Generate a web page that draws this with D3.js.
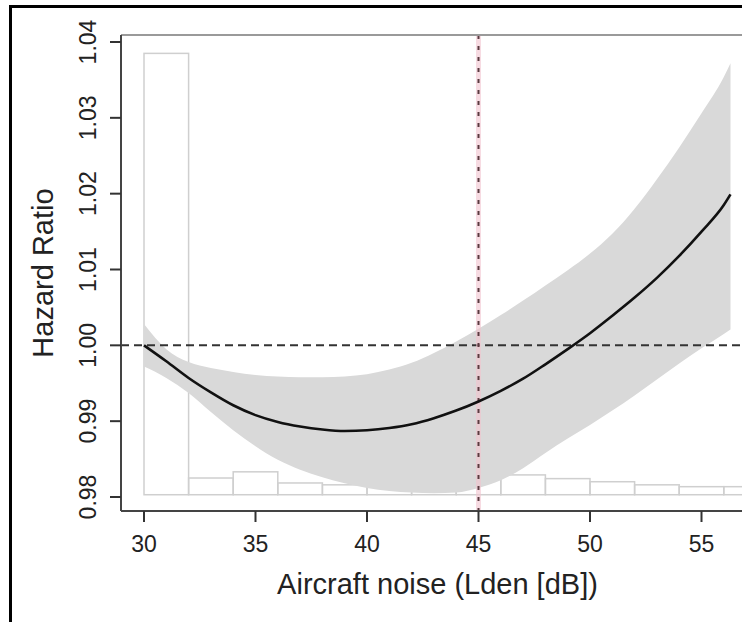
<!DOCTYPE html>
<html>
<head>
<meta charset="utf-8">
<script src="https://cdn.jsdelivr.net/npm/d3@7"></script>
<style>
  html, body { margin: 0; padding: 0; background: #fff; }
  svg { display: block; }
  text { font-family: "Liberation Sans", Arial, sans-serif; fill: #222; }
</style>
</head>
<body>
<svg id="chart" width="742" height="622"></svg>
<script>
// ---- data ----
const noise = [30, 31, 32, 33, 34, 35, 36, 37, 38, 39, 40, 41, 42, 43, 44, 45, 46, 47, 48, 49, 50, 51, 52, 53, 54, 55, 56, 56.3];
const hazard = [1.0000, 0.9979, 0.9957, 0.9938, 0.9921, 0.9908, 0.9899, 0.9893, 0.9889, 0.9887, 0.9888, 0.9891, 0.9896, 0.9904, 0.9914, 0.9926, 0.9940, 0.9956, 0.9975, 0.9995, 1.0016, 1.0039, 1.0063, 1.0089, 1.0118, 1.0150, 1.0185, 1.0199];
const lowerCI = [0.9972, 0.9957, 0.9937, 0.9912, 0.9888, 0.9867, 0.9849, 0.9836, 0.9826, 0.9818, 0.9812, 0.9808, 0.9806, 0.9805, 0.9806, 0.9812, 0.9822, 0.9838, 0.9858, 0.9877, 0.9895, 0.9914, 0.9934, 0.9955, 0.9976, 0.9996, 1.0015, 1.0021];
const upperCI = [1.0028, 0.9995, 0.9978, 0.9970, 0.9965, 0.9961, 0.9959, 0.9958, 0.9958, 0.9959, 0.9962, 0.9968, 0.9977, 0.9990, 1.0005, 1.0022, 1.0040, 1.0059, 1.0079, 1.0099, 1.0121, 1.0147, 1.0180, 1.0219, 1.0261, 1.0306, 1.0354, 1.0372];

const histBinStart = [30, 32, 34, 36, 38, 40, 42, 44, 46, 48, 50, 52, 54, 56];
const histShare = [71.3, 2.7, 3.7, 1.9, 1.6, 1.3, 1.9, 3.7, 3.2, 2.6, 2.1, 1.6, 1.3, 1.3];
const histBinWidth = 2;

const xTicks = [30, 35, 40, 45, 50, 55];
const yTicks = [0.98, 0.99, 1.00, 1.01, 1.02, 1.03, 1.04];
const refHazard = 1.00;
const refNoise = 45;

const xTitle = "Aircraft noise (Lden [dB])";
const yTitle = "Hazard Ratio";

// ---- layout ----
const svg = d3.select("#chart");
const x = d3.scaleLinear().domain([30, 55]).range([144, 701.5]);
const y = d3.scaleLinear().domain([0.98, 1.04]).range([497, 42]);
const plotLeft = 121, plotTop = 35, plotBottom = 511, plotRight = 760;
const xDomRight = x.invert(754);
const hScale = d3.scaleLinear().domain([0, 71.3]).range([y(0.9803), y(1.0385)]);

// outer frame
svg.append("rect").attr("x", 10.5).attr("y", 6.5).attr("width", 900).attr("height", 900)
  .attr("fill", "none").attr("stroke", "#000").attr("stroke-width", 3);

const clip = svg.append("defs").append("clipPath").attr("id", "plotclip");
clip.append("rect").attr("x", plotLeft).attr("y", plotTop).attr("width", plotRight - plotLeft).attr("height", plotBottom - plotTop);

const g = svg.append("g").attr("clip-path", "url(#plotclip)");

// histogram
g.selectAll("rect.hist").data(histBinStart).enter().append("rect")
  .attr("class", "hist")
  .attr("x", d => x(d))
  .attr("width", d => x(d + histBinWidth) - x(d))
  .attr("y", (d, i) => hScale(histShare[i]))
  .attr("height", (d, i) => hScale(0) - hScale(histShare[i]))
  .attr("fill", "none").attr("stroke", "#cfcfcf").attr("stroke-width", 1.5);

// confidence band
const area = d3.area()
  .x((d, i) => x(noise[i]))
  .y0((d, i) => y(lowerCI[i]))
  .y1((d, i) => y(upperCI[i]))
  .curve(d3.curveMonotoneX);
g.append("path").datum(noise).attr("d", area).attr("fill", "#d9d9d9");

// reference lines
g.append("line").attr("x1", plotLeft).attr("x2", plotRight)
  .attr("y1", y(refHazard)).attr("y2", y(refHazard))
  .attr("stroke", "#333").attr("stroke-width", 2).attr("stroke-dasharray", "8,5");
g.append("line").attr("x1", x(refNoise)).attr("x2", x(refNoise))
  .attr("y1", plotTop).attr("y2", plotBottom)
  .attr("stroke", "#f2c4cf").attr("stroke-width", 5).attr("opacity", 0.6);
g.append("line").attr("x1", x(refNoise)).attr("x2", x(refNoise))
  .attr("y1", plotTop).attr("y2", plotBottom)
  .attr("stroke", "#5a3a40").attr("stroke-width", 2).attr("stroke-dasharray", "4,7");

// hazard curve
const line = d3.line().x((d, i) => x(noise[i])).y((d, i) => y(hazard[i])).curve(d3.curveMonotoneX);
g.append("path").datum(noise).attr("d", line).attr("fill", "none")
  .attr("stroke", "#111").attr("stroke-width", 2.6);

// box
svg.append("line").attr("x1", plotLeft).attr("x2", plotRight).attr("y1", plotTop).attr("y2", plotTop)
  .attr("stroke", "#9a9a9a").attr("stroke-width", 2);
svg.append("line").attr("x1", plotLeft).attr("x2", plotLeft).attr("y1", plotTop).attr("y2", plotBottom)
  .attr("stroke", "#444").attr("stroke-width", 2);
svg.append("line").attr("x1", plotLeft).attr("x2", plotRight).attr("y1", plotBottom).attr("y2", plotBottom)
  .attr("stroke", "#444").attr("stroke-width", 2);

// x axis ticks
const xa = svg.append("g");
xa.selectAll("line").data(xTicks).enter().append("line")
  .attr("x1", d => x(d)).attr("x2", d => x(d)).attr("y1", plotBottom).attr("y2", plotBottom + 11)
  .attr("stroke", "#333").attr("stroke-width", 2);
xa.selectAll("text").data(xTicks).enter().append("text")
  .attr("x", d => x(d)).attr("y", 552).attr("text-anchor", "middle")
  .attr("font-size", 23).text(d => d);

// y axis ticks
const ya = svg.append("g");
ya.selectAll("line").data(yTicks).enter().append("line")
  .attr("x1", plotLeft - 11).attr("x2", plotLeft).attr("y1", d => y(d)).attr("y2", d => y(d))
  .attr("stroke", "#333").attr("stroke-width", 2);
ya.selectAll("text").data(yTicks).enter().append("text")
  .attr("transform", d => `translate(96,${y(d)}) rotate(-90)`)
  .attr("text-anchor", "middle").attr("font-size", 23)
  .text(d => d3.format(".2f")(d));

// titles
svg.append("text").attr("x", (plotLeft + x(xDomRight)) / 2).attr("y", 594)
  .attr("text-anchor", "middle").attr("font-size", 29).text(xTitle);
svg.append("text").attr("transform", `translate(53,${(plotTop + plotBottom) / 2}) rotate(-90)`)
  .attr("text-anchor", "middle").attr("font-size", 29).text(yTitle);
</script>
</body>
</html>
